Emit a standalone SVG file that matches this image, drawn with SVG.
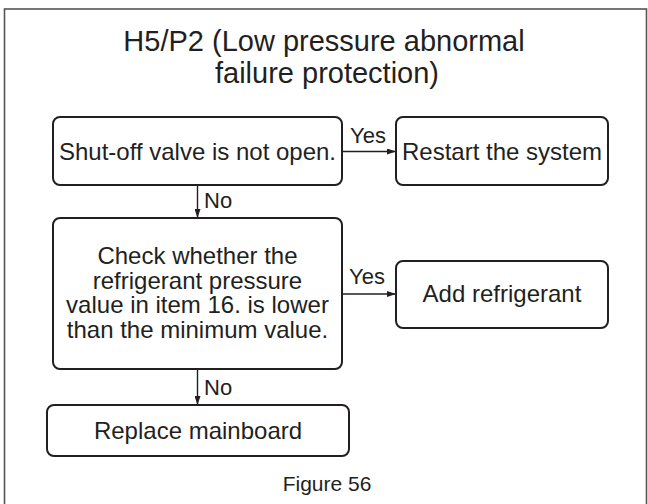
<svg xmlns="http://www.w3.org/2000/svg" width="648" height="504" viewBox="0 0 648 504">
<defs>
<marker id="ah" markerUnits="userSpaceOnUse" markerWidth="9" markerHeight="6" refX="9" refY="3" orient="auto">
<path d="M0,0 L9,3 L0,6 z" fill="#231f20"/>
</marker>
<style>
.box{fill:#fff;stroke:#231f20;stroke-width:2}
.t{font-family:"Liberation Sans",Arial,sans-serif;fill:#231f20;text-anchor:middle}
.n{font-size:24px}
.lab{font-family:"Liberation Sans",Arial,sans-serif;fill:#231f20;font-size:22px}
.c{fill:none;stroke:#231f20;stroke-width:1.4;marker-end:url(#ah)}
</style>
</defs>
<rect x="0" y="0" width="648" height="504" fill="#fff"/>
<rect x="4.5" y="9" width="642" height="600" fill="none" stroke="#555" stroke-width="1.6"/>
<g id="title">
<text class="t" x="324" y="51" font-size="29">H5/P2 (Low pressure abnormal</text>
<text class="t" x="327" y="83" font-size="29">failure protection)</text>
</g>
<g id="connectors">
<line class="c" x1="343" y1="151.5" x2="396" y2="151.5"/>
<line class="c" x1="197.5" y1="185" x2="197.5" y2="218"/>
<line class="c" x1="343" y1="294" x2="396" y2="294"/>
<line class="c" x1="197.5" y1="369" x2="197.5" y2="405"/>
<text class="lab" x="350" y="143">Yes</text>
<text class="lab" x="204" y="208">No</text>
<text class="lab" x="349" y="284">Yes</text>
<text class="lab" x="204" y="395">No</text>
</g>
<g id="n1">
<rect class="box" x="53" y="117" width="289" height="68" rx="7"/>
<text class="t n" x="197.5" y="160">Shut-off valve is not open.</text>
</g>
<g id="n2">
<rect class="box" x="396" y="117" width="212" height="68" rx="7"/>
<text class="t n" x="502" y="160">Restart the system</text>
</g>
<g id="n3">
<rect class="box" x="53" y="218" width="289" height="151" rx="7"/>
<text class="t n" x="197.5" y="264">Check whether the</text>
<text class="t n" x="197.5" y="288.5">refrigerant pressure</text>
<text class="t n" x="197.5" y="313">value in item 16. is lower</text>
<text class="t n" x="197.5" y="337.5">than the minimum value.</text>
</g>
<g id="n4">
<rect class="box" x="396" y="261" width="212" height="67" rx="7"/>
<text class="t n" x="502" y="302">Add refrigerant</text>
</g>
<g id="n5">
<rect class="box" x="47" y="405" width="302" height="51" rx="7"/>
<text class="t n" x="198" y="439">Replace mainboard</text>
</g>
<g id="caption">
<text class="t" x="327" y="491" font-size="21">Figure 56</text>
</g>
</svg>
